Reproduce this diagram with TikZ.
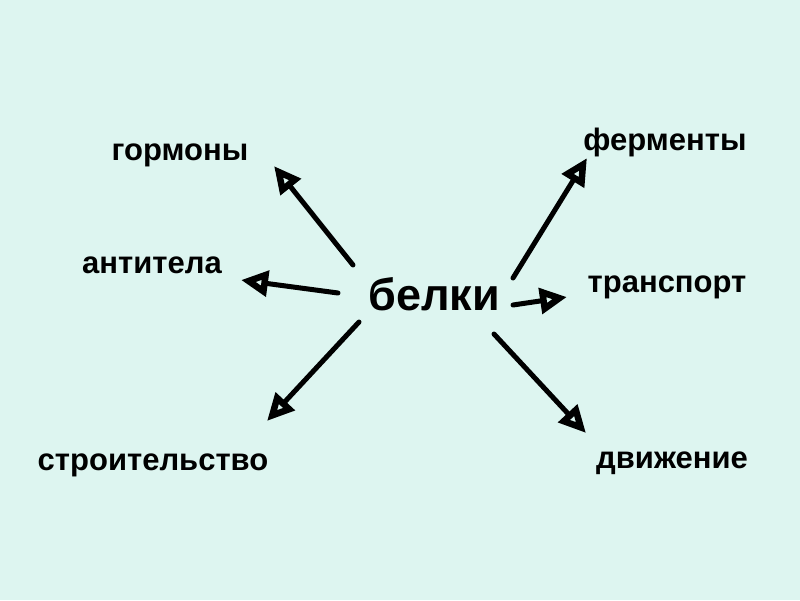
\documentclass[tikz,border=0pt]{standalone}
\usepackage{fontspec}
\setmainfont{Liberation Sans}
\usetikzlibrary{arrows.meta}
\definecolor{bgmint}{RGB}{221,245,240}

\begin{document}
\begin{tikzpicture}[x=1pt,y=-1pt]
  \tikzset{
    word/.style={font=\bfseries\fontsize{31}{36}\selectfont, inner sep=0pt, anchor=base},
    ray/.style={line width=5pt, line cap=round,
      arrows={-{Triangle[open,length=27pt,width=25pt,line width=6.5pt]}}}
  }
  \fill[bgmint] (0,0) rectangle (800,600);
  \useasboundingbox (0,0) rectangle (800,600);

  \node[word, font=\bfseries\fontsize{45}{52}\selectfont] (belki) at (434,310) {белки};

  \node[word] (gorm) at (180,160) {гормоны};
  \node[word] (anti) at (152,273) {антитела};
  \node[word] (stroi) at (153,470) {строительство};
  \node[word] (ferm) at (665,150) {ферменты};
  \node[word] (trans) at (667,292) {транспорт};
  \node[word] (dvizh) at (672,468) {движение};

  % rays start near the central word
  \coordinate (sG) at (353,265);  \coordinate (eG) at (274,166);
  \coordinate (sA) at (338,293);  \coordinate (eA) at (241,280);
  \coordinate (sS) at (359,322);  \coordinate (eS) at (267,421);
  \coordinate (sF) at (513,278);  \coordinate (eF) at (587,158);
  \coordinate (sT) at (513,305);  \coordinate (eT) at (567,297);
  \coordinate (sD) at (494,334);  \coordinate (eD) at (586,433);

  \draw[ray] (sG) -- (eG);
  \draw[ray] (sA) -- (eA);
  \draw[ray] (sS) -- (eS);
  \draw[ray] (sF) -- (eF);
  \draw[ray] (sT) -- (eT);
  \draw[ray] (sD) -- (eD);
\end{tikzpicture}
\end{document}
